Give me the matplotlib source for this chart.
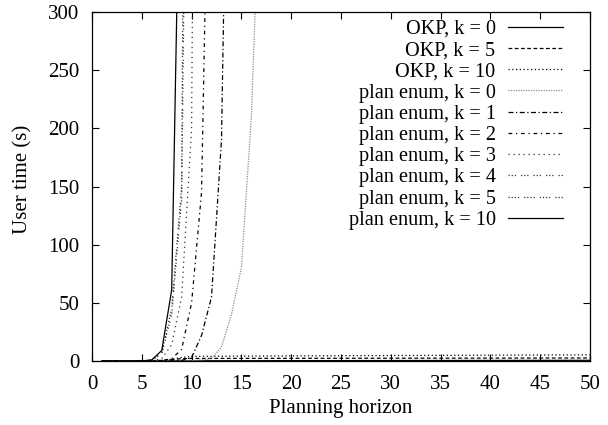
import matplotlib
matplotlib.use("Agg")
import matplotlib.pyplot as plt

plt.rcParams['font.family'] = ['Liberation Serif', 'DejaVu Serif']
plt.rcParams['font.size'] = 15

# OKP runs, stay close to zero over the whole horizon
okp_x = [1, 3, 5, 7, 8, 9, 10, 15, 20, 25, 30, 35, 40, 45, 50]
okp_k0 = [0.0, 0.0, 0.02, 0.1, 0.12, 0.15, 0.2, 0.25, 0.3, 0.35, 0.4, 0.45, 0.5, 0.55, 0.6]
okp_k5 = [0.0, 0.0, 0.1, 0.5, 1.2, 2.0, 2.2, 2.25, 2.3, 2.35, 2.4, 2.45, 2.5, 2.55, 2.6]
okp_k10 = [0.0, 0.0, 0.1, 0.5, 1.5, 3.0, 4.0, 4.2, 4.4, 4.55, 4.7, 4.85, 5.0, 5.15, 5.3]

# plan enumeration, blows up quickly
pe_k0_x = [1, 5, 8, 10, 11, 12, 13, 14, 15, 16, 17]
pe_k0 = [0.0, 0.0, 0.05, 0.3, 0.8, 2, 12, 40, 80, 210, 450]
pe_k1_x = [1, 5, 8, 9, 10, 11, 12, 13, 14]
pe_k1 = [0.0, 0.0, 0.1, 0.5, 3, 22, 55, 190, 700]
pe_k2_x = [1, 5, 7, 8, 9, 10, 11, 12]
pe_k2 = [0.0, 0.0, 0.3, 2, 10, 50, 145, 600]
pe_k3_x = [1, 5, 6, 7, 8, 9, 10, 11]
pe_k3 = [0.0, 0.0, 0.3, 2, 14, 55, 200, 1500]
pe_k4_x = [1, 5, 6, 7, 8, 9, 10]
pe_k4 = [0.0, 0.05, 0.7, 6, 40, 140, 900]
pe_k5_x = [1, 5, 6, 7, 8, 9, 10]
pe_k5 = [0.0, 0.05, 0.8, 7, 45, 150, 1500]
pe_k10_x = [1, 5, 6, 7, 8, 9]
pe_k10 = [0.0, 0.05, 1, 9, 61, 530]

series = [
    ("OKP, k = 0", okp_x, okp_k0, "black", "-"),
    ("OKP, k = 5", okp_x, okp_k5, "black", (0, (3, 2))),
    ("OKP, k = 10", okp_x, okp_k10, "black", (0, (1, 2))),
    ("plan enum, k = 0", pe_k0_x, pe_k0, "0.55", (0, (1, 1))),
    ("plan enum, k = 1", pe_k1_x, pe_k1, "black", (0, (4, 2, 1, 2))),
    ("plan enum, k = 2", pe_k2_x, pe_k2, "black", (0, (3, 3, 1, 3))),
    ("plan enum, k = 3", pe_k3_x, pe_k3, "0.2", (0, (1, 3))),
    ("plan enum, k = 4", pe_k4_x, pe_k4, "0.2", (0, (1, 1.5, 1, 1.5, 1, 4))),
    ("plan enum, k = 5", pe_k5_x, pe_k5, "0.2", (0, (1, 1.5, 1, 1.5, 1, 1.5, 1, 4))),
    ("plan enum, k = 10", pe_k10_x, pe_k10, "black", "-"),
]

fig = plt.figure(figsize=(6.08, 4.25), dpi=100)
ax = fig.add_axes([92 / 608, 64 / 425, 498 / 608, 349 / 425])

for label, xs, ys, col, ls in series:
    ax.plot(xs, ys, color=col, linestyle=ls, linewidth=0.9, label=label)

ax.set_xlim(0, 50)
ax.set_ylim(0, 300)
ax.set_xticks(range(0, 51, 5))
ax.set_yticks(range(0, 301, 50))
ax.tick_params(direction="in", length=5, width=0.8, top=True, right=True)
ax.tick_params(axis="x", pad=10)
ax.tick_params(axis="y", pad=9)
for s in ax.spines.values():
    s.set_linewidth(0.9)

ax.set_xlabel("Planning horizon")
ax.set_ylabel("User time (s)")
ax.xaxis.set_label_coords(0.5, -0.108)
ax.yaxis.set_label_coords(-0.12, 0.52)

leg = ax.legend(loc="upper right", bbox_to_anchor=(0.946, 0.978), frameon=False,
                markerfirst=False, handlelength=2.7, handletextpad=0.63,
                labelspacing=0.1, borderpad=0, borderaxespad=0, fontsize=14.6)

fig.savefig("out.png", dpi=100)
